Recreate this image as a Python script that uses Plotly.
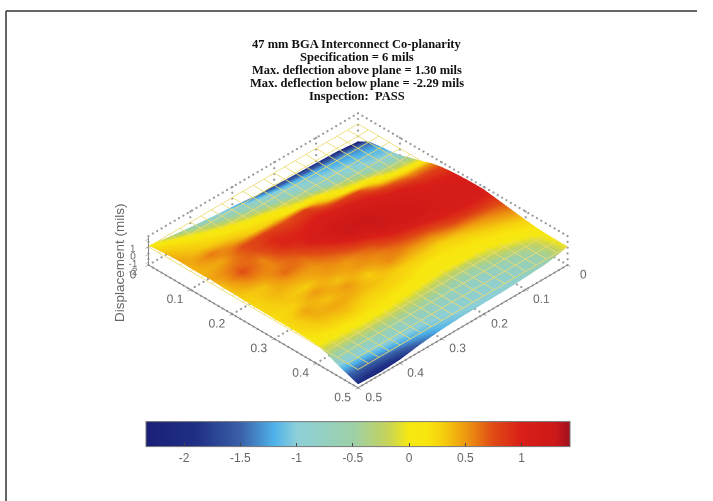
import plotly.graph_objects as go

title_lines = ["47 mm BGA Interconnect Co-planarity", "Specification = 6 mils",
               "Max. deflection above plane = 1.30 mils", "Max. deflection below plane = -2.29 mils",
               "Inspection:  PASS"]
axis_a = [round(i * 0.025, 3) for i in range(21)]
axis_b = [round(j * 0.05, 3) for j in range(11)]
mesh_ticks = [round(i * 0.025, 3) for i in range(21)]
# one list per axis_b value; each list runs over axis_a (back -> right corner)
b_000 = [-2.3,-1.5,-1.25,-1.1,-.85,-.4,0.0,.5,.8,.95,1.05,1.1,1.1,.9,.7,.5,.3,.15,.05,0,-.05]
b_005 = [-2.0,-1.35,-1.15,-1.0,-.7,-.3,0.1,.55,.85,1.0,1.1,1.15,1.1,.9,.55,.35,.15,0,-.35,-.55,-.6]
b_010 = [-1.9,-1.3,-1.05,-.85,-.45,0,.3,.75,1.0,1.1,1.15,1.15,1.05,.8,.4,.2,.05,-.2,-.65,-.8,-.8]
b_015 = [-1.8,-1.2,-.95,-.7,-.2,.1,.75,.95,1.1,1.2,1.2,1.2,.9,.55,.25,.15,.05,-.45,-.8,-.9,-.95]
b_020 = [-1.7,-1.1,-.8,-.4,.05,.35,.85,1.05,1.2,1.3,1.3,1.05,.75,.5,.3,.1,0,-.45,-.8,-.9,-1]
b_025 = [-1.5,-.9,-.6,-.15,.1,.8,.95,1.1,1.2,1.3,1.0,.7,.55,.55,.3,.2,.05,-.35,-.75,-.95,-1.05]
b_030 = [-1.2,-.7,-.35,.05,.25,.75,.9,1.0,1.1,.9,.7,.5,.5,.3,.35,.25,.1,-.25,-.7,-1,-1.2]
b_035 = [-.95,-.5,-.1,.15,.3,.8,.95,.95,.75,.6,.5,.5,.35,.5,.4,.25,.15,-.2,-.7,-1.1,-1.5]
b_040 = [-.65,-.2,.1,.25,.45,.75,.7,.55,.55,.65,.45,.3,.5,.35,.45,.35,.15,-.2,-.7,-1.2,-1.95]
b_045 = [-.3,.1,.25,.35,.6,.45,.6,.75,.55,.35,.4,.35,.3,.45,.4,.3,.1,-.25,-.85,-1.4,-2.1]
b_050 = [.15,.3,.4,.45,.4,.4,.45,.35,.35,.3,.25,.25,.2,.2,.2,.15,.05,-.3,-.95,-1.45,-1.95]
columns = [b_000, b_005, b_010, b_015, b_020, b_025, b_030, b_035, b_040, b_045, b_050]
Z = [list(row) for row in zip(*columns)]

xy_ticks = [0, 0.1, 0.2, 0.3, 0.4, 0.5]
z_ticks = [-2, -1, 0, 1]
z_range = [-2.4, 1.4]
cmin, cmax = -2.34, 1.43
color_stops = [(-2.34, "#1a1f78"), (-1.9, "#1f2f85"), (-1.5, "#3a60a8"), (-1.2, "#4fb2ea"),
               (-1.0, "#8ccfd8"), (-0.5, "#9dd0a8"), (-0.2, "#c4d35c"), (0.0, "#f6e812"),
               (0.15, "#f8e60e"), (0.3, "#f6cf0e"), (0.5, "#ee9a10"), (0.75, "#e04a15"), (1.0, "#d91e18"),
               (1.3, "#cc1818"), (1.43, "#a01020")]
colorscale = [[(v - cmin) / (cmax - cmin), c] for v, c in color_stops]

fig = go.Figure()
fig.add_trace(go.Surface(
    x=axis_b, y=axis_a, z=Z, cmin=cmin, cmax=cmax, colorscale=colorscale,
    lighting=dict(ambient=1, diffuse=0, specular=0, fresnel=0, roughness=1),
    hoverinfo="skip",
    colorbar=dict(orientation="h", x=0.502, xanchor="center", y=0.042, yanchor="bottom",
                  len=444, lenmode="pixels", thickness=25, thicknessmode="pixels",
                  tickvals=[-2, -1.5, -1, -0.5, 0, 0.5, 1], ticktext=["-2", "-1.5", "-1", "-0.5", "0", "0.5", "1"],
                  ticks="inside", ticklen=4, tickcolor="#444", outlinecolor="#777", outlinewidth=1,
                  tickfont=dict(family="Liberation Sans", size=12, color="#666")),
))

# z = 0 reference plane wire mesh
mx, my, mz = [], [], []
for b in mesh_ticks:
    mx += [b, b, None]; my += [0, 0.5, None]; mz += [0, 0, None]
for a in mesh_ticks:
    mx += [0, 0.5, None]; my += [a, a, None]; mz += [0, 0, None]
fig.add_trace(go.Scatter3d(x=mx, y=my, z=mz, mode="lines", hoverinfo="skip", showlegend=False,
                           line=dict(color="#ecdc70", width=1.5)))

# dotted grid on the back walls and floor
zb, zt = z_range
s = []
for t in xy_ticks:
    s += [((t, 0, zb), (t, 0, zt)), ((0, t, zb), (0, t, zt))]
    s += [((t, 0, zb), (t, 0.5, zb)), ((0, t, zb), (0.5, t, zb))]
s += [((0, 0, zt), (0.5, 0, zt)), ((0, 0, zt), (0, 0.5, zt))]
gx, gy, gz = [], [], []
for p, q in s:
    n = 48 if p[2] == q[2] else 5
    for k in range(n + 1):
        f = k / n
        gx.append(p[0] + (q[0] - p[0]) * f)
        gy.append(p[1] + (q[1] - p[1]) * f)
        gz.append(p[2] + (q[2] - p[2]) * f)
fig.add_trace(go.Scatter3d(x=gx, y=gy, z=gz, mode="markers", hoverinfo="skip", showlegend=False,
                           marker=dict(color="#999999", size=1.3, line=dict(width=0))))

tf = dict(family="Liberation Sans", size=12, color="#666")
ax = dict(title=dict(text=""), range=[0, 0.5], tickvals=xy_ticks, ticktext=[str(t) for t in xy_ticks],
          showgrid=False, zeroline=False, showbackground=False, showline=True, linecolor="#777", linewidth=2,
          ticks="outside", ticklen=4, tickcolor="#777", tickfont=tf, tickangle=0, showspikes=False)
d = 1.093
k_scale = 210 / 177.5
fig.update_layout(
    width=713, height=501, margin=dict(l=0, r=0, t=0, b=0), paper_bgcolor="white", showlegend=False,
    scene=dict(domain=dict(x=[0.004, 1], y=[0, 1]),
               aspectmode="manual", aspectratio=dict(x=k_scale, y=k_scale, z=0.1205 * k_scale),
               camera=dict(eye=dict(x=d, y=d, z=d * 1.0233), up=dict(x=0, y=0, z=1),
                           center=dict(x=0, y=0, z=0), projection=dict(type="orthographic")),
               xaxis=ax, yaxis=ax,
               zaxis=dict(title=dict(text=""), range=z_range, tickvals=z_ticks, ticktext=[str(t) for t in z_ticks],
                          showgrid=False, zeroline=False, showbackground=False, showline=True, linecolor="#777",
                          linewidth=2, ticks="outside", ticklen=3, tickcolor="#777", tickfont=dict(tf, size=11),
                          tickangle=0, showspikes=False)),
)
anns = []
for i, t in enumerate(title_lines):
    anns.append(dict(text="<b>%s</b>" % t, x=357 / 713, y=1 - (44 + 13 * i) / 501, xref="paper", yref="paper",
                     showarrow=False, xanchor="center", yanchor="middle",
                     font=dict(family="Liberation Serif", size=12.5, color="#111")))
anns.append(dict(text="Displacement (mils)", x=119 / 713, y=1 - 263 / 501, xref="paper", yref="paper", showarrow=False,
                 textangle=-90, xanchor="center", yanchor="middle",
                 font=dict(family="Liberation Sans", size=13.5, color="#666")))
fig.update_layout(annotations=anns, shapes=[
    dict(type="line", xref="paper", yref="paper", x0=6 / 713, x1=697 / 713, y0=1 - 11 / 501, y1=1 - 11 / 501,
         line=dict(color="#333", width=1.5)),
    dict(type="line", xref="paper", yref="paper", x0=6 / 713, x1=6 / 713, y0=1 - 11 / 501, y1=0,
         line=dict(color="#333", width=1.5)),
])
fig.write_html("out.html", post_script="document.body.style.margin='0';", config=dict(displayModeBar=False))
